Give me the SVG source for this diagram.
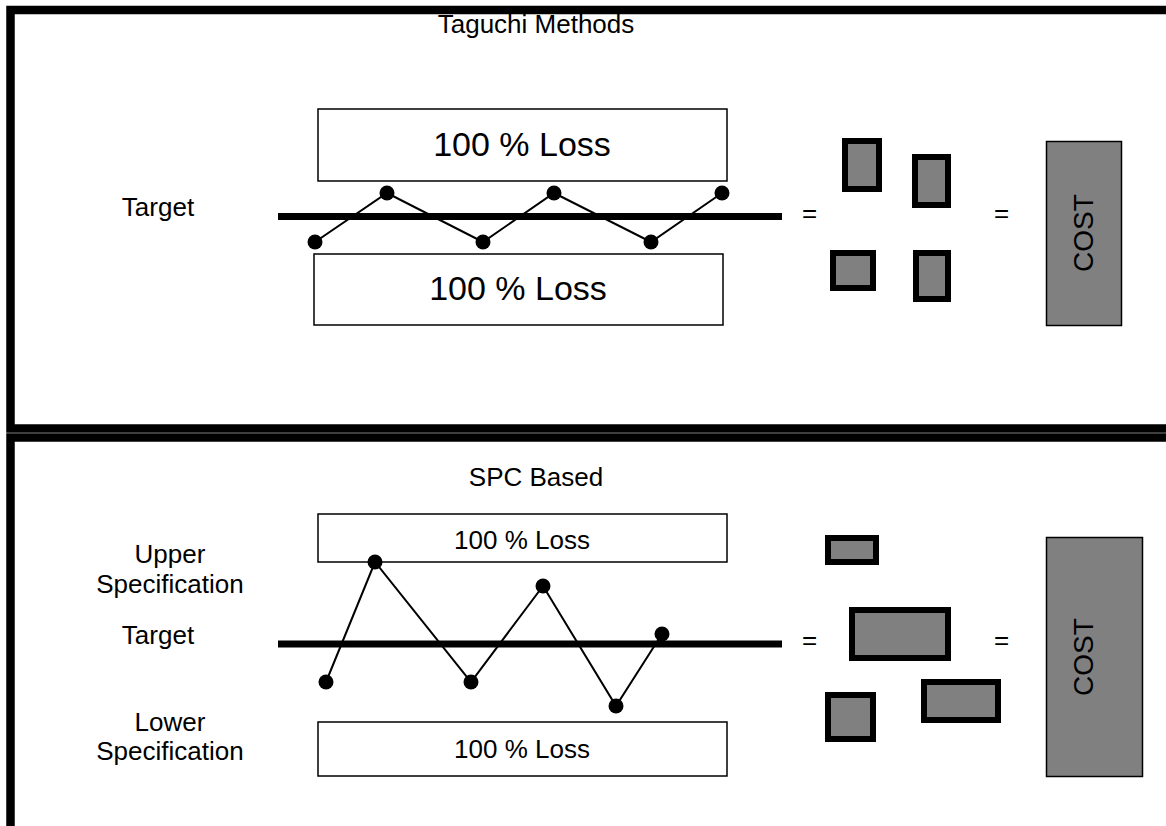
<svg xmlns="http://www.w3.org/2000/svg" width="1166" height="826" viewBox="0 0 1166 826">
  <style>
    text { font-family: "Liberation Sans", Arial, sans-serif; fill: #000; }
    .t26 { font-size: 26px; }
    .mid { text-anchor: middle; }
    .frame { fill: none; stroke: #000; stroke-width: 8.5; }
    .loss { fill: #fff; stroke: #000; stroke-width: 1.5; }
    .target { stroke: #000; stroke-width: 7; }
    .trace { fill: none; stroke: #000; stroke-width: 2; }
    .dot { fill: #000; }
    .block { fill: #808080; stroke: #000; stroke-width: 6; }
    .cost { fill: #808080; stroke: #000; stroke-width: 1.5; }
  </style>

  <rect width="1166" height="826" fill="#fff"/>

  <!-- panel frames -->
  <g id="frames">
    <rect class="frame" x="10.5" y="10" width="1170" height="418.5"/>
    <rect class="frame" x="10.5" y="437.5" width="1170" height="395"/>
  </g>

  <!-- ===== Taguchi panel ===== -->
  <g id="taguchi-title"><text class="t26 mid" x="536" y="33">Taguchi Methods</text></g>
  <g id="taguchi-target-label"><text class="t26 mid" x="158" y="216">Target</text></g>

  <g id="taguchi-loss-upper">
    <rect class="loss" x="318" y="109" width="409" height="72"/>
    <text class="mid" x="522" y="156" font-size="34">100 % Loss</text>
  </g>
  <g id="taguchi-loss-lower">
    <rect class="loss" x="314" y="254" width="409" height="71"/>
    <text class="mid" x="518" y="300" font-size="34">100 % Loss</text>
  </g>
  <g id="taguchi-target-line"><line class="target" x1="278" y1="216.5" x2="782" y2="216.5"/></g>

  <g id="taguchi-eq1"><text class="t26 mid" x="809.5" y="222">=</text></g>
  <g id="taguchi-blocks">
    <rect class="block" x="845" y="141" width="34" height="48"/>
    <rect class="block" x="915" y="157" width="33" height="48"/>
    <rect class="block" x="833" y="253" width="40" height="35"/>
    <rect class="block" x="916" y="253" width="32" height="46"/>
  </g>
  <g id="taguchi-eq2"><text class="t26 mid" x="1001.5" y="222">=</text></g>
  <g id="taguchi-cost">
    <rect class="cost" x="1046.5" y="141.5" width="75" height="184"/>
    <text class="mid" font-size="28" transform="translate(1093 233) rotate(-90)">COST</text>
  </g>

  <!-- ===== SPC panel ===== -->
  <g id="spc-title"><text class="t26 mid" x="536" y="486">SPC Based</text></g>
  <g id="spc-upper-label">
    <text class="t26 mid" x="170" y="563">Upper</text>
    <text class="t26 mid" x="170" y="593">Specification</text>
  </g>
  <g id="spc-target-label"><text class="t26 mid" x="158" y="644">Target</text></g>
  <g id="spc-lower-label">
    <text class="t26 mid" x="170" y="731">Lower</text>
    <text class="t26 mid" x="170" y="760">Specification</text>
  </g>

  <g id="spc-loss-upper">
    <rect class="loss" x="318" y="514" width="409" height="48"/>
    <text class="t26 mid" x="522" y="549">100 % Loss</text>
  </g>
  <g id="spc-loss-lower">
    <rect class="loss" x="318" y="722" width="409" height="54"/>
    <text class="t26 mid" x="522" y="758">100 % Loss</text>
  </g>
  <g id="spc-target-line"><line class="target" x1="278" y1="644" x2="782" y2="644"/></g>

  <g id="spc-eq1"><text class="t26 mid" x="809.5" y="649">=</text></g>
  <g id="spc-blocks">
    <rect class="block" x="828" y="538" width="48" height="24"/>
    <rect class="block" x="852" y="610" width="96" height="48"/>
    <rect class="block" x="828" y="695" width="45" height="44"/>
    <rect class="block" x="924" y="682" width="74" height="38"/>
  </g>
  <g id="spc-eq2"><text class="t26 mid" x="1001.5" y="649">=</text></g>
  <g id="spc-cost">
    <rect class="cost" x="1046.5" y="537.5" width="96" height="239"/>
    <text class="mid" font-size="28" transform="translate(1093 657) rotate(-90)">COST</text>
  </g>

  <!-- measurement traces joining the sample points -->
  <g id="connectors">
    <polyline class="trace" points="315,242 387,193 483,242 554,193 651,242 722,193"/>
    <polyline class="trace" points="326,682 375,562 471,682 543,586 616,706 662,634"/>
  </g>

  <!-- sample points -->
  <g id="taguchi-points">
    <circle class="dot" cx="315" cy="242" r="7.5"/>
    <circle class="dot" cx="387" cy="193" r="7.5"/>
    <circle class="dot" cx="483" cy="242" r="7.5"/>
    <circle class="dot" cx="554" cy="193" r="7.5"/>
    <circle class="dot" cx="651" cy="242" r="7.5"/>
    <circle class="dot" cx="722" cy="193" r="7.5"/>
  </g>
  <g id="spc-points">
    <circle class="dot" cx="326" cy="682" r="7.5"/>
    <circle class="dot" cx="375" cy="562" r="7.5"/>
    <circle class="dot" cx="471" cy="682" r="7.5"/>
    <circle class="dot" cx="543" cy="586" r="7.5"/>
    <circle class="dot" cx="616" cy="706" r="7.5"/>
    <circle class="dot" cx="662" cy="634" r="7.5"/>
  </g>
</svg>
